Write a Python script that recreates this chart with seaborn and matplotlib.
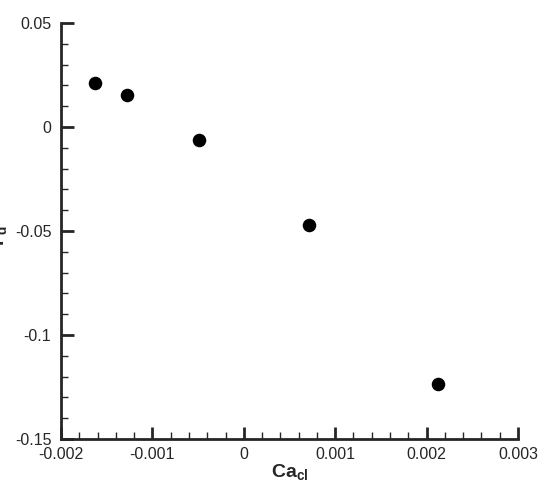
import numpy as np
import pandas as pd
import matplotlib
matplotlib.use("Agg")
import matplotlib.pyplot as plt
import seaborn as sns
from matplotlib.ticker import MultipleLocator, FuncFormatter

# Du lieu doc tu hinh
ca_cl = [-0.001625, -0.001282, -0.000489, 0.000717, 0.00212]
gamma_d = [0.0213, 0.0154, -0.0061, -0.0471, -0.1237]

sns.set_style("ticks")
plt.rcParams['font.family'] = ['Liberation Sans', 'DejaVu Sans']
plt.rcParams['mathtext.fontset'] = 'custom'
plt.rcParams['mathtext.rm'] = 'Liberation Sans'
plt.rcParams['mathtext.bf'] = 'Liberation Sans:bold'

df = pd.DataFrame({'Ca_cl': ca_cl, 'Gamma_d': gamma_d})

fig = plt.figure(figsize=(5.48, 4.84), dpi=100)
ax = fig.add_axes([0.1113, 0.0930, 0.8340, 0.8595])

sns.scatterplot(data=df, x='Ca_cl', y='Gamma_d', ax=ax, color='black',
                s=95, edgecolor='black', linewidth=0, legend=False, zorder=3)

ax.set_xlim(-0.002, 0.003)
ax.set_ylim(-0.15, 0.05)
ax.xaxis.set_major_locator(MultipleLocator(0.001))
ax.xaxis.set_minor_locator(MultipleLocator(0.0002))
ax.yaxis.set_major_locator(MultipleLocator(0.05))
ax.yaxis.set_minor_locator(MultipleLocator(0.01))

fmt = FuncFormatter(lambda v, p: '0' if abs(v) < 1e-12 else ('%g' % round(v, 6)))
ax.xaxis.set_major_formatter(fmt)
ax.yaxis.set_major_formatter(fmt)

for side in ['top', 'right']:
    ax.spines[side].set_visible(False)
for side in ['left', 'bottom']:
    ax.spines[side].set_linewidth(2)

ax.tick_params(which='major', direction='in', length=9, width=2, labelsize=11.5)
ax.tick_params(axis='x', which='major', pad=6)
ax.tick_params(axis='y', which='major', pad=7)
ax.tick_params(which='minor', direction='in', length=5, width=1)

ax.set_xlabel(r'$\mathbf{Ca}_{\mathbf{cl}}$', fontsize=14)
ax.xaxis.set_label_coords(0.5, -0.056)
ax.set_ylabel(r'$\mathbf{\Gamma}_{\mathbf{d}}$', fontsize=14)
ax.yaxis.set_label_coords(-0.112, 0.49)

fig.savefig('out.png', dpi=100)
